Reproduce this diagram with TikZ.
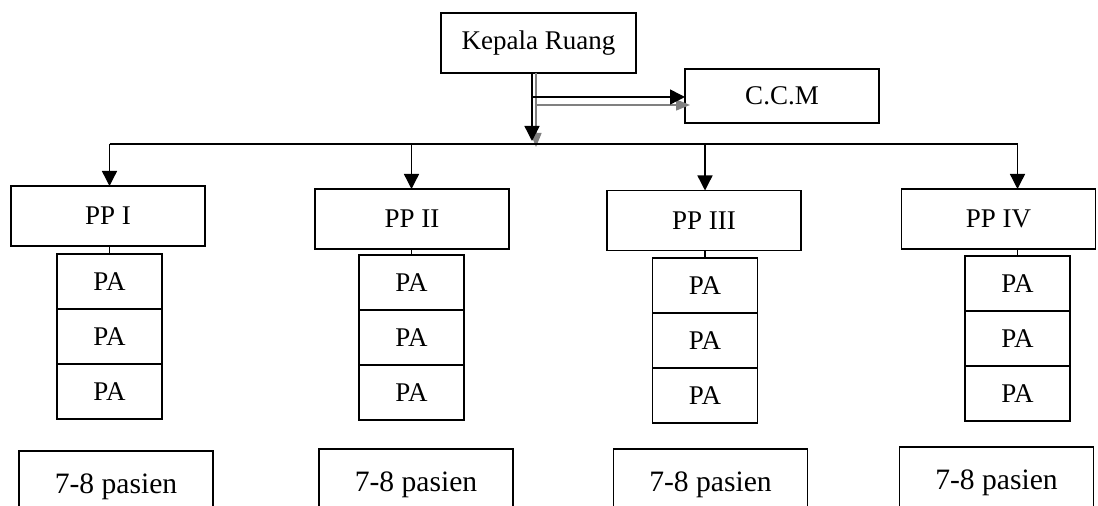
\documentclass[tikz,border=0pt]{standalone}
\usepackage{fontspec}
\setmainfont{Liberation Serif}
\usetikzlibrary{positioning, arrows.meta}
\definecolor{cabu}{gray}{0.5}

\begin{document}
\begin{tikzpicture}[x=0.5pt, y=-0.5pt,
    kotak/.style={draw, line width=0.7pt, inner sep=0pt, outer sep=0pt,
                  font=\fontsize{13.5}{16}\selectfont},
    pp/.style={kotak, minimum width=97pt, minimum height=30pt},
    pa/.style={kotak, minimum width=52.5pt, minimum height=27.5pt},
    pasien/.style={kotak, minimum width=97pt, minimum height=36pt,
                   font=\fontsize{14.8}{17}\selectfont},
    garis/.style={line width=0.7pt},
    panah/.style={garis, -{Triangle[length=7.5pt, width=7.5pt]}},
    panahabu/.style={garis, cabu, -{Triangle[length=7pt, width=5.5pt]}}]

  \useasboundingbox (0,0) rectangle (1098,506);
  \clip (0,0) rectangle (1098,506);

  % puncak
  \node[kotak, minimum width=97.5pt, minimum height=30pt] (kr) at (538.5,43) {Kepala Ruang};
  \node[kotak, minimum width=97pt, minimum height=27pt] (ccm) at (782,96) {C.C.M};

  % perawat primer
  \node[pp] (pp1) at (108,216) {PP I};
  \node[pp] (pp2) at (412,219) {PP II};
  \node[pp] (pp3) at (704,220.5) {PP III};
  \node[pp] (pp4) at (998.5,219) {PP IV};

  % perawat asosiet
  \node[pa, anchor=north] (pa1a) at (109.5,254) {PA};
  \node[pa, below=0pt of pa1a] (pa1b) {PA};
  \node[pa, below=0pt of pa1b] (pa1c) {PA};
  \node[pa, anchor=north] (pa2a) at (411.5,255) {PA};
  \node[pa, below=0pt of pa2a] (pa2b) {PA};
  \node[pa, below=0pt of pa2b] (pa2c) {PA};
  \node[pa, anchor=north] (pa3a) at (705,258) {PA};
  \node[pa, below=0pt of pa3a] (pa3b) {PA};
  \node[pa, below=0pt of pa3b] (pa3c) {PA};
  \node[pa, anchor=north] (pa4a) at (1017.5,256) {PA};
  \node[pa, below=0pt of pa4a] (pa4b) {PA};
  \node[pa, below=0pt of pa4b] (pa4c) {PA};

  % pasien
  \node[pasien, anchor=north] (ps1) at (116,451) {7-8 pasien};
  \node[pasien, anchor=north] (ps2) at (416,449) {7-8 pasien};
  \node[pasien, anchor=north] (ps3) at (710.5,449) {7-8 pasien};
  \node[pasien, anchor=north] (ps4) at (996.5,447) {7-8 pasien};

  % garis komando
  \coordinate (bus) at (0,144);
  \coordinate (cabang) at (532,97);
  \coordinate (ujung) at (532,141);
  \coordinate (cabangabu) at (536,105);
  \coordinate (ujungabu) at (536,147);

  \draw[panahabu] (kr.south -| cabangabu) -- (ujungabu);
  \draw[panahabu] (cabangabu) -- ([xshift=2.5pt]ccm.west |- cabangabu);
  \draw[panah] (kr.south -| cabang) -- (ujung);
  \draw[panah] (cabang) -- (ccm.west |- cabang);

  \draw[garis] (pa1a |- bus) -- (pa4a |- bus);
  \draw[panah] (pa1a |- bus) -- (pa1a |- pp1.north);
  \draw[panah] (pa2a |- bus) -- (pa2a |- pp2.north);
  \draw[panah] (pa3a |- bus) -- (pa3a |- pp3.north);
  \draw[panah] (pa4a |- bus) -- (pa4a |- pp4.north);

  \draw[garis] (pa1a |- pp1.south) -- (pa1a);
  \draw[garis] (pa2a |- pp2.south) -- (pa2a);
  \draw[garis] (pa3a |- pp3.south) -- (pa3a);
  \draw[garis] (pa4a |- pp4.south) -- (pa4a);
\end{tikzpicture}
\end{document}
